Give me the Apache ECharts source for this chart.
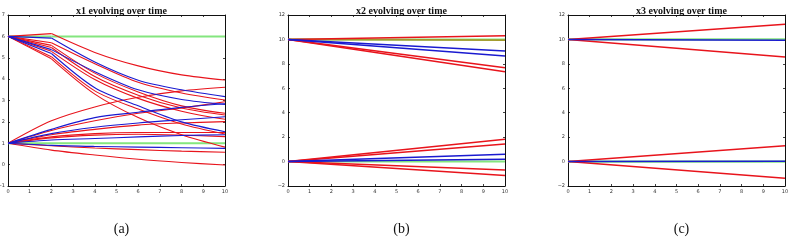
<!DOCTYPE html>
<html>
<head>
<meta charset="utf-8">
<script src="https://cdn.jsdelivr.net/npm/echarts@6/dist/echarts.min.js"></script>
<style>
  html, body { margin: 0; padding: 0; background: #fff; }
  #chart { width: 792px; height: 246px; }
</style>
</head>
<body>
<div id="chart"></div>
<script>
// time steps
const t1 = [0, 2, 4, 6, 8, 10]
const t23 = [0, 10]

// panel (a): x1
const x1Red = [
  [6, 6.13, 5.25, 4.62, 4.2, 3.96],
  [6, 5.7, 4.72, 3.85, 3.35, 3.02],
  [6, 5.58, 4.28, 3.4, 2.75, 2.4],
  [6, 5.48, 4.12, 3.25, 2.65, 2.32],
  [6, 5.3, 3.98, 3.1, 2.5, 2.12],
  [6, 5.05, 3.45, 2.6, 1.9, 1.43],
  [6, 4.95, 3.3, 2.2, 1.4, 0.82],
  [1, 2.05, 2.7, 3.15, 3.45, 3.62],
  [1, 1.6, 2.05, 2.4, 2.65, 2.94],
  [1, 1.4, 1.65, 1.85, 1.95, 2.01],
  [1, 1.3, 1.45, 1.5, 1.5, 1.5],
  [1, 1.25, 1.38, 1.42, 1.38, 1.31],
  [1, 0.88, 0.78, 0.7, 0.63, 0.58],
  [1, 0.68, 0.45, 0.25, 0.1, -0.02]
]
const x1Blue = [
  [6, 5.92, 4.8, 3.95, 3.5, 3.18],
  [6, 5.38, 4.35, 3.5, 3.05, 2.82],
  [6, 5.2, 3.6, 2.75, 2.0, 1.54],
  [1, 1.65, 2.2, 2.45, 2.68, 2.85],
  [1, 1.45, 1.75, 1.95, 2.1, 2.24],
  [1, 1.15, 1.22, 1.3, 1.36, 1.4],
  [1, 0.9, 0.85, 0.82, 0.79, 0.76]
]
const x1Green = [
  [6, 6, 6, 6, 6, 6],
  [1, 1, 1, 1, 1, 1]
]

// panel (b): x2
const x2Red = [[10, 10.31], [10, 7.69], [10, 7.36], [0, 1.82], [0, 1.44], [0, -0.7], [0, -1.15]]
const x2Blue = [[10, 9.05], [10, 8.64], [0, 0.59], [0, 0.18]]
const x2Olive = [[10, 9.95]]
const x2Green = [[10, 10], [0, 0]]

// panel (c): x3
const x3Red = [[10, 11.24], [10, 8.56], [0, 1.3], [0, -1.37]]
const x3Blue = [[10, 9.93], [0, 0.03]]
const x3Green = [[10, 10], [0, 0]]

const titles = ['x1 evolving over time', 'x2 evolving over time', 'x3 evolving over time']
const captions = ['(a)', '(b)', '(c)']
const yRanges = [[-1, 7, 1], [-2, 12, 2], [-2, 12, 2]]

const panelLeft = [8, 288, 568]
const panelTop = 15
const panelW = 217
const panelH = 171

const RED = '#e8141c'
const BLUE = '#1a1ad0'
const GREEN = '#84e67e'
const OLIVE = '#a39a2c'

const chart = echarts.init(document.getElementById('chart'), null, { renderer: 'canvas' })

const grid = []
const xAxis = []
const yAxis = []
const title = []
const series = []

function tickStyle(show) {
  return {
    axisLine: { show: true, onZero: false, lineStyle: { color: '#111', width: 1 } },
    axisTick: { show: true, inside: true, length: 2, lineStyle: { color: '#111', width: 0.8 } },
    axisLabel: {
      show: show, fontSize: 5, color: '#333', margin: 3, fontFamily: 'DejaVu Sans',
      formatter: function(v) { return String(v).replace('-', '\u2212') }
    },
    splitLine: { show: false }
  }
}

function pushLine(i, pts, color, width, smooth) {
  series.push({
    type: 'line',
    xAxisIndex: 2 * i,
    yAxisIndex: 2 * i,
    data: pts,
    symbol: 'none',
    smooth: smooth,
    silent: true,
    lineStyle: { color: color, width: width }
  })
}

// lines starting from 6 in panel (a) run straight to t=2, then curve
function addLines(i, t, rows, color, width, smooth) {
  rows.forEach(function(r) {
    const pts = t.map(function(x, k) { return [x, r[k]] })
    if (smooth && r[0] === 6) {
      pushLine(i, pts.slice(0, 2), color, width, false)
      pushLine(i, pts.slice(1), color, width, smooth)
    } else {
      pushLine(i, pts, color, width, smooth)
    }
  })
}

for (let i = 0; i < 3; i++) {
  grid.push({ left: panelLeft[i], top: panelTop, width: panelW, height: panelH, outerBoundsMode: 'none', containLabel: false })
  xAxis.push(Object.assign({ type: 'value', gridIndex: i, min: 0, max: 10, interval: 1, position: 'bottom' }, tickStyle(true)))
  xAxis.push(Object.assign({ type: 'value', gridIndex: i, min: 0, max: 10, interval: 1, position: 'top' }, tickStyle(false)))
  const yr = yRanges[i]
  yAxis.push(Object.assign({ type: 'value', gridIndex: i, min: yr[0], max: yr[1], interval: yr[2], position: 'left' }, tickStyle(true)))
  yAxis.push(Object.assign({ type: 'value', gridIndex: i, min: yr[0], max: yr[1], interval: yr[2], position: 'right' }, tickStyle(false)))
  const cx = panelLeft[i] + panelW / 2
  title.push({
    text: titles[i], left: cx, top: 1, textAlign: 'center',
    textStyle: { fontFamily: 'Liberation Serif', fontWeight: 'bold', fontSize: 10, color: '#111' }
  })
  title.push({
    text: captions[i], left: cx, top: 217, textAlign: 'center',
    textStyle: { fontFamily: 'Liberation Serif', fontWeight: 'normal', fontSize: 14, color: '#111' }
  })
}

addLines(0, t1, x1Green, GREEN, 2, 0.3)
addLines(0, t1, x1Red, RED, 1.1, 0.3)
addLines(0, t1, x1Blue, BLUE, 1.1, 0.3)

addLines(1, t23, x2Green, GREEN, 2, false)
addLines(1, t23, x2Olive, OLIVE, 1.8, false)
addLines(1, t23, x2Red, RED, 1.5, false)
addLines(1, t23, x2Blue, BLUE, 1.5, false)

addLines(2, t23, x3Green, GREEN, 2.2, false)
addLines(2, t23, x3Red, RED, 1.6, false)
addLines(2, t23, x3Blue, BLUE, 1.4, false)

chart.setOption({
  animation: false,
  backgroundColor: '#fff',
  title: title,
  grid: grid,
  xAxis: xAxis,
  yAxis: yAxis,
  series: series
})
</script>
</body>
</html>
